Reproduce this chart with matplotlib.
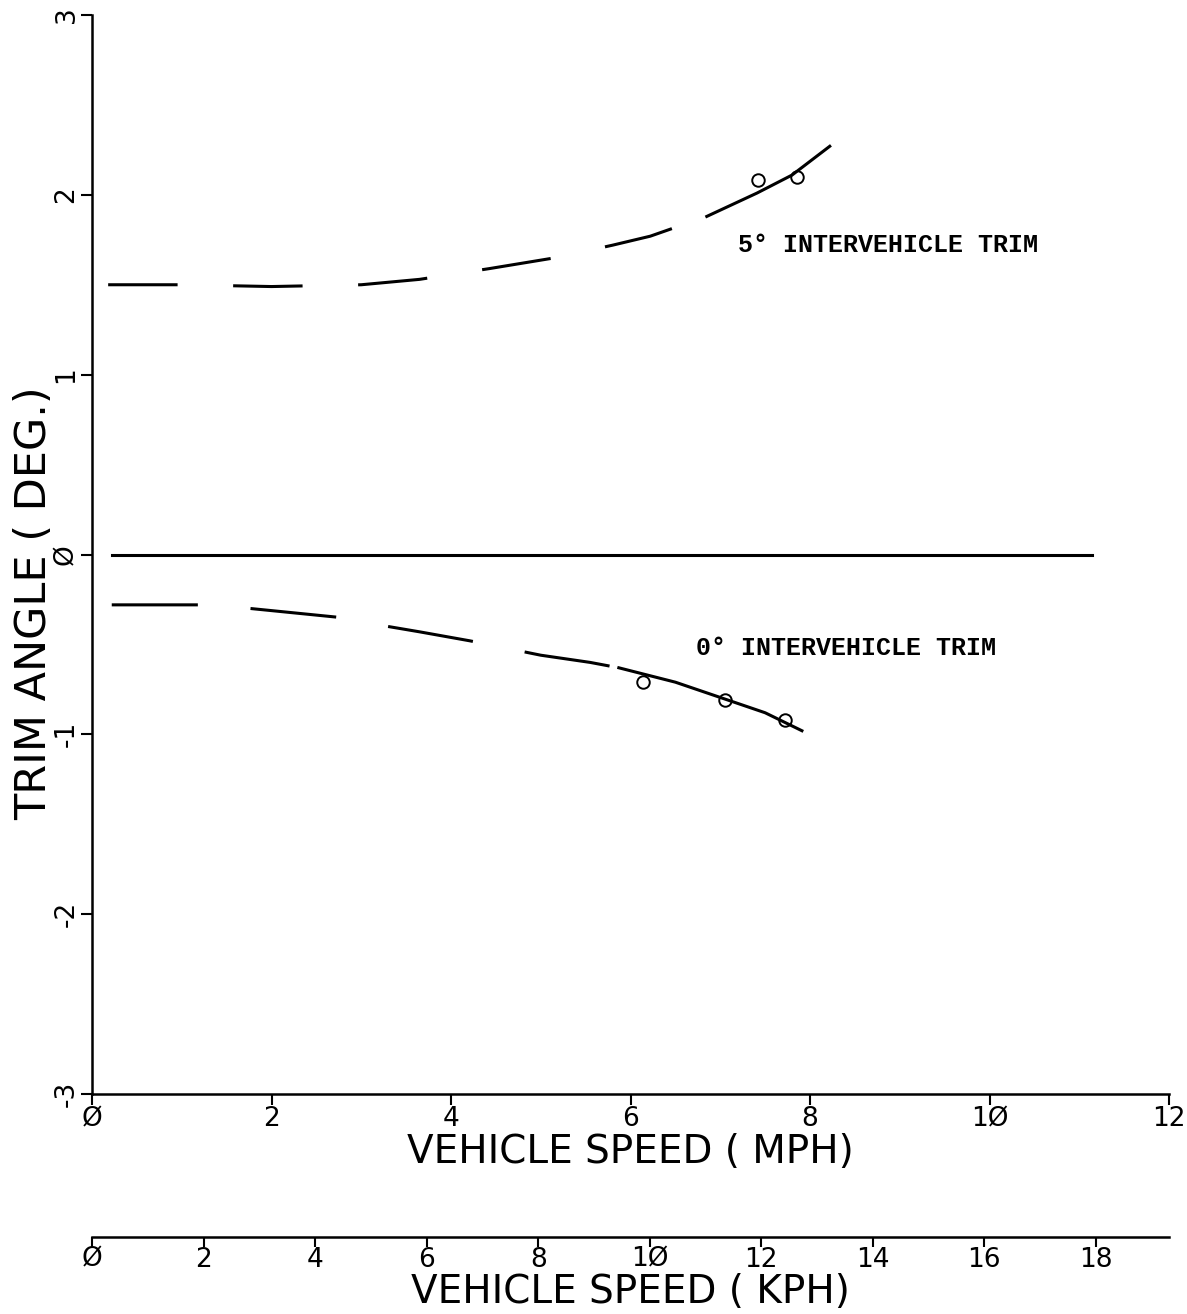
import numpy as np
import matplotlib
matplotlib.use('Agg')
import matplotlib.pyplot as plt

matplotlib.rcParams['lines.scale_dashes'] = False
matplotlib.rcParams['font.family'] = 'DejaVu Sans'

# trim curves (mph, deg)
trim5_dash_x = [0.18, 1.0, 2.0, 3.0, 3.65, 4.43, 5.16, 5.8, 6.22, 6.85]
trim5_dash_y = [1.50, 1.50, 1.49, 1.50, 1.53, 1.59, 1.65, 1.72, 1.77, 1.88]
trim5_fit_x = [6.85, 7.41, 7.8, 8.22]
trim5_fit_y = [1.88, 2.01, 2.11, 2.27]
trim5_meas_x = [7.42, 7.85]
trim5_meas_y = [2.08, 2.10]

trim0_dash_x = [0.22, 1.2, 1.76, 2.76, 3.0, 3.65, 4.21, 5.0, 5.55, 5.87]
trim0_dash_y = [-0.28, -0.28, -0.30, -0.35, -0.375, -0.43, -0.48, -0.56, -0.60, -0.63]
trim0_fit_x = [5.87, 6.5, 7.03, 7.5, 7.91]
trim0_fit_y = [-0.63, -0.71, -0.80, -0.88, -0.98]
trim0_meas_x = [6.14, 7.05, 7.72]
trim0_meas_y = [-0.71, -0.81, -0.92]

zero_x = [0.22, 11.14]
zero_y = [0.0, 0.0]

mph_ticks = [0, 2, 4, 6, 8, 10, 12]
mph_labels = ['Ø', '2', '4', '6', '8', '1Ø', '12']
kph_ticks = [0, 2, 4, 6, 8, 10, 12, 14, 16, 18]
kph_labels = ['Ø', '2', '4', '6', '8', '1Ø', '12', '14', '16', '18']
deg_ticks = [-3, -2, -1, 0, 1, 2, 3]
deg_labels = ['-3', '-2', '-1', 'Ø', '1', '2', '3']

W, H = 1187, 1314
fig = plt.figure(figsize=(W / 100, H / 100), dpi=100)
ax = fig.add_axes([92 / W, (H - 1094) / H, (1169 - 92) / W, (1094 - 15) / H])

lw = 2.2
ax.plot(trim5_dash_x, trim5_dash_y, color='black', lw=lw, linestyle=(0, (50, 40)))
ax.plot(trim5_fit_x, trim5_fit_y, color='black', lw=lw)
ax.plot(trim5_meas_x, trim5_meas_y, 'o', mfc='none', mec='black', ms=9, mew=1.4)

ax.plot(trim0_dash_x, trim0_dash_y, color='black', lw=lw, linestyle=(0, (62, 38)))
ax.plot(trim0_fit_x, trim0_fit_y, color='black', lw=lw)
ax.plot(trim0_meas_x, trim0_meas_y, 'o', mfc='none', mec='black', ms=9, mew=1.4)

ax.plot(zero_x, zero_y, color='black', lw=lw)

ax.text(7.2, 1.72, '5° INTERVEHICLE TRIM', family='Liberation Mono', weight='bold',
        fontsize=18, va='center', ha='left')
ax.text(6.73, -0.52, '0° INTERVEHICLE TRIM', family='Liberation Mono', weight='bold',
        fontsize=18, va='center', ha='left')

ax.set_xlim(0, 12)
ax.set_ylim(-3, 3)
for s in ['top', 'right']:
    ax.spines[s].set_visible(False)
for s in ['left', 'bottom']:
    ax.spines[s].set_linewidth(1.8)

ax.set_xticks(mph_ticks)
ax.set_xticklabels(mph_labels, fontsize=19)
ax.set_yticks(deg_ticks)
ax.set_yticklabels(deg_labels, fontsize=19, rotation=90, va='center')
ax.tick_params(direction='out', length=8, width=1.5, pad=1)
ax.set_xlabel('VEHICLE SPEED ( MPH)', fontsize=28, labelpad=0)
ax.set_ylabel('TRIM ANGLE ( DEG.)', fontsize=31)
ax.yaxis.set_label_coords(-0.034, 0.455)

# kph scale below the mph axis
kph = ax.secondary_xaxis(-0.1325, functions=(lambda v: v * 1.609344, lambda v: v / 1.609344))
kph.spines['bottom'].set_linewidth(1.8)
kph.set_xticks(kph_ticks)
kph.set_xticklabels(kph_labels, fontsize=19)
kph.tick_params(direction='out', length=7, width=1.5, pad=0)
kph.set_xlabel('VEHICLE SPEED ( KPH)', fontsize=28, labelpad=0)

fig.savefig('out.png', dpi=100)
